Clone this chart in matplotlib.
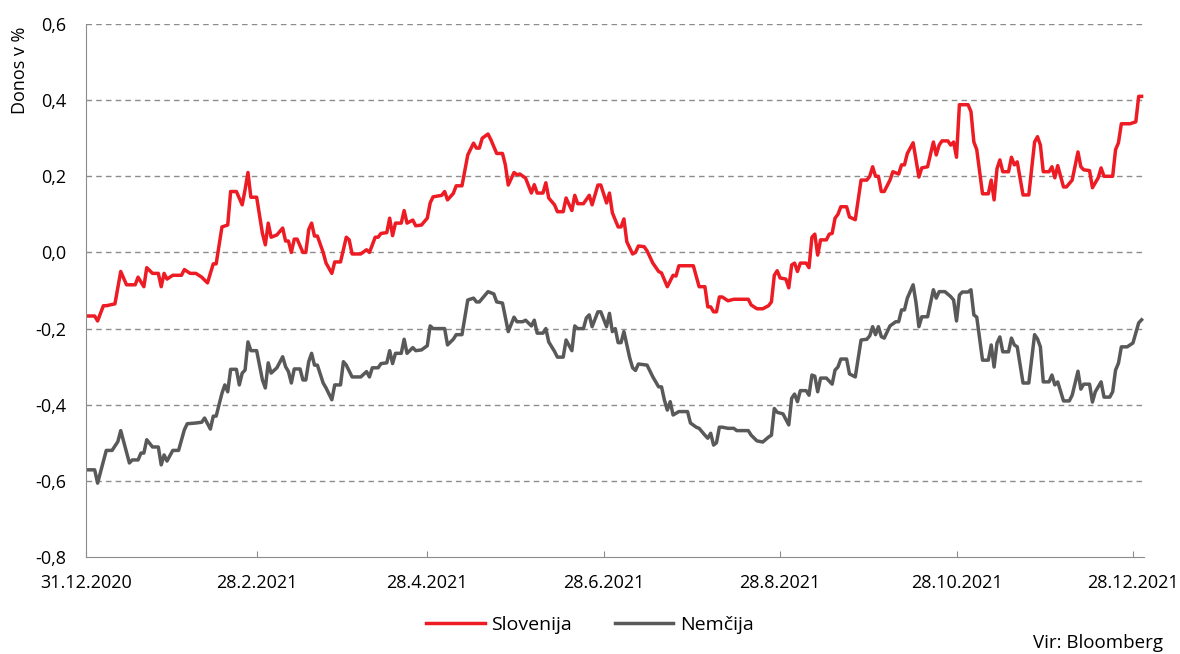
import numpy as np
import matplotlib
matplotlib.use("Agg")
import matplotlib.pyplot as plt

START = np.datetime64("2020-12-31")

# days since 31.12.2020 and yields in %
si_days = [0, 3, 4, 6, 7, 10, 12, 14, 17, 18, 20, 21, 23, 25, 26, 27, 28, 30, 33, 34,
           36, 38, 40, 42, 44, 45, 47, 49, 50, 52, 54, 55, 56, 57, 59, 61, 62, 63, 64, 66,
           68, 69, 70, 71, 72, 73, 75, 76, 77, 78, 79, 80, 82, 83, 85, 86, 88, 90, 91, 92,
           95, 97, 98, 100, 101, 102, 104, 105, 106, 107, 109, 110, 111, 113, 114, 116, 118, 119, 120, 123,
           124, 125, 127, 128, 130, 132, 134, 135, 136, 137, 139, 140, 142, 144, 145, 146, 148, 149, 150, 152,
           154, 155, 156, 158, 159, 160, 162, 163, 165, 166, 168, 169, 170, 172, 174, 175, 177, 178, 180, 181,
           182, 184, 185, 186, 187, 189, 190, 191, 193, 194, 196, 198, 199, 200, 201, 203, 204, 205, 210, 211,
           212, 214, 215, 216, 217, 218, 219, 220, 222, 224, 229, 230, 232, 234, 236, 237, 238, 239, 240, 242,
           243, 244, 245, 246, 247, 249, 250, 251, 252, 253, 254, 256, 257, 258, 259, 260, 261, 263, 264, 266,
           268, 270, 271, 272, 273, 274, 275, 276, 278, 279, 281, 282, 283, 284, 286, 287, 288, 289, 291, 293,
           294, 295, 296, 298, 299, 300, 301, 302, 305, 306, 307, 308, 310, 312, 313, 314, 315, 316, 317, 319,
           320, 321, 322, 324, 326, 328, 329, 330, 331, 333, 334, 335, 336, 338, 339, 341, 343, 344, 345, 347,
           348, 350, 351, 352, 354, 355, 356, 357, 358, 361, 363, 364, 365]
si_vals = [-0.167, -0.167, -0.18, -0.14, -0.14, -0.135, -0.05, -0.085, -0.085, -0.065, -0.09, -0.04, -0.055, -0.055, -0.09, -0.055, -0.07, -0.06, -0.06, -0.045,
           -0.055, -0.055, -0.065, -0.08, -0.03, -0.03, 0.067, 0.072, 0.16, 0.16, 0.125, 0.165, 0.21, 0.145, 0.145, 0.05, 0.02, 0.077, 0.04, 0.046,
           0.064, 0.03, 0.03, 0.0, 0.035, 0.035, 0.0, 0.0, 0.06, 0.077, 0.043, 0.043, 0.0, -0.028, -0.055, -0.025, -0.025, 0.04, 0.033, -0.004,
           -0.004, 0.007, 0.0, 0.04, 0.04, 0.05, 0.052, 0.09, 0.044, 0.077, 0.077, 0.11, 0.077, 0.085, 0.07, 0.072, 0.09, 0.13, 0.146, 0.15,
           0.16, 0.138, 0.155, 0.175, 0.175, 0.256, 0.287, 0.274, 0.274, 0.30, 0.311, 0.296, 0.26, 0.26, 0.23, 0.177, 0.21, 0.204, 0.206, 0.195,
           0.156, 0.178, 0.156, 0.156, 0.183, 0.143, 0.125, 0.107, 0.107, 0.143, 0.11, 0.15, 0.128, 0.128, 0.15, 0.125, 0.177, 0.177, 0.13, 0.156,
           0.104, 0.067, 0.067, 0.088, 0.028, -0.004, 0.0, 0.017, 0.015, 0.004, -0.028, -0.05, -0.054, -0.072, -0.09, -0.06, -0.062, -0.035, -0.035, -0.063,
           -0.09, -0.09, -0.143, -0.143, -0.156, -0.156, -0.117, -0.117, -0.127, -0.123, -0.123, -0.138, -0.148, -0.148, -0.14, -0.13, -0.06, -0.048, -0.067, -0.07,
           -0.093, -0.033, -0.028, -0.05, -0.028, -0.028, -0.04, 0.04, 0.048, -0.007, 0.033, 0.033, 0.048, 0.05, 0.09, 0.1, 0.12, 0.12, 0.093, 0.086,
           0.19, 0.19, 0.2, 0.225, 0.2, 0.2, 0.16, 0.16, 0.19, 0.212, 0.206, 0.23, 0.23, 0.26, 0.288, 0.243, 0.198, 0.222, 0.225, 0.29,
           0.256, 0.282, 0.293, 0.293, 0.282, 0.29, 0.25, 0.388, 0.388, 0.37, 0.29, 0.27, 0.154, 0.154, 0.19, 0.138, 0.22, 0.243, 0.212, 0.212,
           0.25, 0.23, 0.238, 0.151, 0.151, 0.29, 0.304, 0.282, 0.212, 0.212, 0.225, 0.196, 0.228, 0.172, 0.172, 0.19, 0.264, 0.225, 0.217, 0.215,
           0.17, 0.196, 0.222, 0.2, 0.2, 0.2, 0.27, 0.288, 0.338, 0.338, 0.343, 0.41, 0.41]

de_days = [0, 3, 4, 7, 9, 11, 12, 14, 15, 16, 18, 19, 20, 21, 23, 25, 26, 27, 28, 30,
           32, 34, 35, 38, 40, 41, 43, 44, 45, 47, 48, 49, 50, 52, 53, 54, 55, 56, 57, 59,
           61, 62, 63, 64, 66, 68, 69, 70, 71, 72, 74, 75, 76, 77, 78, 79, 80, 82, 83, 85,
           86, 88, 89, 90, 92, 95, 97, 98, 99, 101, 102, 104, 105, 106, 107, 109, 110, 111, 113, 114,
           116, 118, 119, 120, 124, 125, 127, 128, 130, 132, 134, 135, 136, 138, 139, 141, 142, 144, 145, 146,
           148, 149, 151, 152, 154, 155, 156, 158, 159, 160, 162, 163, 165, 166, 168, 169, 170, 172, 173, 174,
           175, 177, 178, 180, 181, 182, 183, 184, 185, 186, 188, 189, 190, 191, 194, 196, 198, 199, 200, 201,
           202, 203, 205, 208, 209, 211, 212, 214, 215, 216, 217, 218, 219, 220, 222, 224, 225, 229, 230, 232,
           234, 236, 237, 238, 239, 241, 243, 244, 245, 246, 247, 249, 250, 251, 252, 253, 254, 256, 258, 259,
           260, 261, 263, 264, 266, 268, 270, 271, 272, 273, 274, 275, 276, 278, 280, 281, 282, 283, 284, 286,
           287, 288, 289, 291, 292, 293, 294, 295, 297, 299, 300, 301, 302, 303, 305, 306, 307, 308, 310, 312,
           313, 314, 315, 316, 317, 319, 320, 321, 322, 324, 326, 328, 329, 330, 331, 333, 334, 335, 336, 338,
           340, 341, 343, 344, 345, 347, 348, 349, 351, 352, 354, 355, 356, 357, 358, 360, 362, 364, 365]
de_vals = [-0.571, -0.571, -0.606, -0.52, -0.52, -0.497, -0.468, -0.524, -0.553, -0.545, -0.545, -0.527, -0.527, -0.492, -0.511, -0.511, -0.558, -0.532, -0.548, -0.52,
           -0.52, -0.466, -0.45, -0.448, -0.446, -0.435, -0.464, -0.43, -0.43, -0.37, -0.348, -0.366, -0.307, -0.307, -0.348, -0.317, -0.309, -0.235, -0.258, -0.258,
           -0.335, -0.356, -0.29, -0.317, -0.303, -0.274, -0.3, -0.313, -0.343, -0.306, -0.306, -0.335, -0.335, -0.287, -0.265, -0.296, -0.296, -0.343, -0.356, -0.387,
           -0.348, -0.348, -0.287, -0.296, -0.327, -0.327, -0.313, -0.327, -0.303, -0.303, -0.292, -0.29, -0.258, -0.292, -0.265, -0.265, -0.228, -0.265, -0.25, -0.258,
           -0.256, -0.245, -0.193, -0.2, -0.2, -0.243, -0.228, -0.216, -0.216, -0.125, -0.12, -0.13, -0.13, -0.112, -0.103, -0.109, -0.13, -0.133, -0.17, -0.208,
           -0.17, -0.182, -0.182, -0.178, -0.193, -0.178, -0.212, -0.212, -0.2, -0.235, -0.26, -0.275, -0.275, -0.23, -0.258, -0.193, -0.2, -0.2, -0.172, -0.164,
           -0.195, -0.156, -0.156, -0.195, -0.16, -0.208, -0.2, -0.237, -0.237, -0.208, -0.277, -0.303, -0.31, -0.293, -0.296, -0.327, -0.353, -0.353, -0.388, -0.414,
           -0.392, -0.427, -0.418, -0.418, -0.448, -0.459, -0.462, -0.48, -0.488, -0.475, -0.506, -0.5, -0.459, -0.459, -0.462, -0.462, -0.468, -0.468, -0.48, -0.495,
           -0.498, -0.485, -0.48, -0.41, -0.42, -0.424, -0.453, -0.383, -0.372, -0.392, -0.363, -0.363, -0.375, -0.322, -0.325, -0.366, -0.33, -0.33, -0.346, -0.309,
           -0.301, -0.28, -0.28, -0.319, -0.327, -0.23, -0.228, -0.219, -0.195, -0.216, -0.195, -0.221, -0.225, -0.193, -0.182, -0.182, -0.151, -0.151, -0.12, -0.085,
           -0.132, -0.195, -0.169, -0.169, -0.133, -0.098, -0.12, -0.103, -0.103, -0.116, -0.125, -0.18, -0.112, -0.104, -0.104, -0.098, -0.164, -0.17, -0.283, -0.283,
           -0.243, -0.301, -0.238, -0.222, -0.261, -0.261, -0.225, -0.243, -0.248, -0.343, -0.343, -0.216, -0.227, -0.248, -0.34, -0.34, -0.322, -0.348, -0.34, -0.39,
           -0.39, -0.375, -0.312, -0.359, -0.346, -0.346, -0.393, -0.366, -0.34, -0.38, -0.38, -0.366, -0.309, -0.291, -0.248, -0.248, -0.238, -0.185, -0.177]

tick_dates = ["2020-12-31", "2021-02-28", "2021-04-28", "2021-06-28", "2021-08-28", "2021-10-28", "2021-12-28"]
tick_labels = ["31.12.2020", "28.2.2021", "28.4.2021", "28.6.2021", "28.8.2021", "28.10.2021", "28.12.2021"]
y_ticks = [-0.8, -0.6, -0.4, -0.2, 0.0, 0.2, 0.4, 0.6]

RED = "#ED1C24"
GRAY = "#595959"


def to_dates(days):
    return (START + np.array(days, dtype="timedelta64[D]")).astype("datetime64[D]")


def main():
    plt.rcParams["font.family"] = ["Open Sans", "DejaVu Sans"]
    fig = plt.figure(figsize=(11.8, 6.54), dpi=100)
    ax = fig.add_axes([0.0729, 0.1483, 0.897, 0.815])

    ax.plot(to_dates(si_days), si_vals, color=RED, lw=2.5, label="Slovenija")
    ax.plot(to_dates(de_days), de_vals, color=GRAY, lw=2.5, label="Nemčija")

    ax.set_ylim(-0.8, 0.6)
    ax.set_yticks(y_ticks)
    ax.set_yticklabels([f"{v:.1f}".replace(".", ",") for v in y_ticks], fontsize=13)
    ax.set_xlim(START, START + np.timedelta64(366, "D"))
    ax.set_xticks(np.array(tick_dates, dtype="datetime64[D]"))
    ax.set_xticklabels(tick_labels, fontsize=13)

    for v in y_ticks[1:]:
        ax.axhline(v, color="#8c8c8c", lw=1, ls=(0, (4, 3)), zorder=0)

    for s in ["top", "right"]:
        ax.spines[s].set_visible(False)
    ax.spines["left"].set_color("#8c8c8c")
    ax.spines["bottom"].set_color("#8c8c8c")
    ax.tick_params(axis="x", direction="in", length=4, color="#8c8c8c", pad=12)
    ax.tick_params(axis="y", length=0, pad=14)

    fig.text(20 / 1180, 1 - 70 / 654, "Donos v %", rotation=90, ha="center", va="center", fontsize=13)

    fig.legend(loc="center", bbox_to_anchor=(0.5, 0.044), ncol=2, frameon=False,
               fontsize=14, handlelength=3.0, handletextpad=0.35, columnspacing=2.2)
    fig.text(0.986, 0.017, "Vir: Bloomberg", ha="right", va="center", fontsize=13.5)

    fig.savefig("out.png", dpi=100)


main()
